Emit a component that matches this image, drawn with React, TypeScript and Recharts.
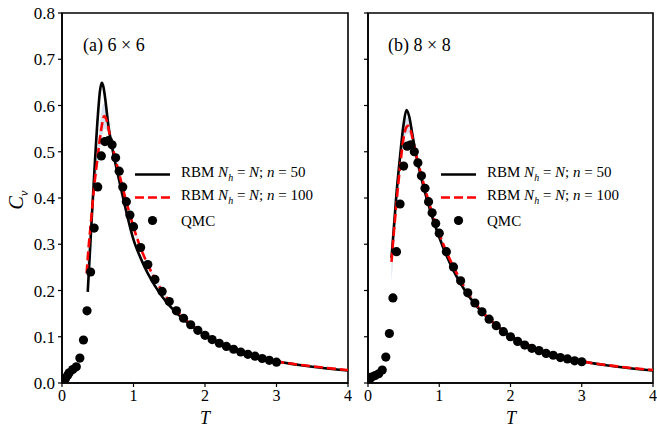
import React from "react";
import {
  ComposedChart,
  Line,
  Scatter,
  Area,
  XAxis,
  YAxis,
  ReferenceArea,
} from "recharts";

// ---- panel (a): 6 x 6 ----
const qmcT6 = [0.05, 0.08, 0.1, 0.15, 0.2, 0.25, 0.3, 0.35, 0.4, 0.45, 0.5, 0.55, 0.6, 0.65, 0.7, 0.75, 0.8, 0.85, 0.9, 0.95, 1.0, 1.1, 1.2, 1.3, 1.4, 1.5, 1.6, 1.7, 1.8, 1.9, 2.0, 2.1, 2.2, 2.3, 2.4, 2.5, 2.6, 2.7, 2.8, 2.9, 3.0];
const qmcCv6 = [0.01, 0.017, 0.022, 0.029, 0.035, 0.054, 0.093, 0.156, 0.24, 0.335, 0.424, 0.491, 0.522, 0.524, 0.515, 0.487, 0.458, 0.424, 0.392, 0.363, 0.338, 0.293, 0.256, 0.224, 0.198, 0.176, 0.156, 0.14, 0.126, 0.114, 0.103, 0.094, 0.086, 0.079, 0.073, 0.067, 0.062, 0.058, 0.053, 0.049, 0.045];

const rbm50T6 = [0.36, 0.4, 0.45, 0.5, 0.53, 0.555, 0.58, 0.6, 0.65, 0.7, 0.8, 0.9, 1.0, 1.1, 1.2, 1.3, 1.4, 1.5, 1.6, 1.8, 2.0, 2.25, 2.5, 2.75, 3.0, 3.5, 4.0];
const rbm50Cv6 = [0.197, 0.31, 0.45, 0.575, 0.63, 0.649, 0.64, 0.62, 0.555, 0.51, 0.438, 0.37, 0.31, 0.27, 0.237, 0.21, 0.187, 0.168, 0.152, 0.125, 0.103, 0.083, 0.068, 0.056, 0.047, 0.035, 0.027];

const rbm100T6 = [0.345, 0.37, 0.4, 0.45, 0.5, 0.55, 0.59, 0.63, 0.67, 0.7, 0.8, 0.9, 1.0, 1.1, 1.2, 1.3, 1.4, 1.5, 1.6, 1.8, 2.0, 2.25, 2.5, 2.75, 3.0, 3.5, 4.0];
const rbm100Cv6 = [0.237, 0.29, 0.34, 0.425, 0.49, 0.55, 0.577, 0.565, 0.535, 0.515, 0.452, 0.392, 0.337, 0.292, 0.256, 0.225, 0.199, 0.177, 0.158, 0.127, 0.104, 0.084, 0.068, 0.056, 0.047, 0.036, 0.028];

const bandT6 = [0.345, 0.37, 0.4, 0.45, 0.5, 0.55, 0.59, 0.63, 0.67, 0.7, 0.8, 0.9, 1.0, 1.2, 1.5];
const bandLo6 = [0.215, 0.27, 0.325, 0.41, 0.47, 0.525, 0.55, 0.545, 0.52, 0.503, 0.444, 0.385, 0.332, 0.252, 0.174];
const bandHi6 = [0.255, 0.305, 0.356, 0.445, 0.515, 0.585, 0.605, 0.59, 0.556, 0.53, 0.462, 0.4, 0.343, 0.26, 0.18];

// ---- panel (b): 8 x 8 ----
const qmcT8 = [0.03, 0.05, 0.1, 0.15, 0.2, 0.25, 0.3, 0.35, 0.4, 0.45, 0.5, 0.55, 0.6, 0.65, 0.7, 0.75, 0.8, 0.85, 0.9, 0.95, 1.0, 1.1, 1.2, 1.3, 1.4, 1.5, 1.6, 1.7, 1.8, 1.9, 2.0, 2.1, 2.2, 2.3, 2.4, 2.5, 2.6, 2.7, 2.8, 2.9, 3.0];
const qmcCv8 = [0.01, 0.013, 0.016, 0.02, 0.028, 0.056, 0.107, 0.184, 0.284, 0.387, 0.469, 0.512, 0.515, 0.5, 0.476, 0.448, 0.421, 0.392, 0.368, 0.345, 0.324, 0.284, 0.251, 0.221, 0.195, 0.173, 0.154, 0.138, 0.124, 0.111, 0.1, 0.09, 0.082, 0.075, 0.07, 0.064, 0.06, 0.055, 0.052, 0.048, 0.046];

const rbm50T8 = [0.33, 0.36, 0.4, 0.45, 0.5, 0.54, 0.58, 0.62, 0.66, 0.7, 0.8, 0.9, 1.0, 1.1, 1.2, 1.3, 1.4, 1.5, 1.6, 1.8, 2.0, 2.25, 2.5, 2.75, 3.0, 3.5, 4.0];
const rbm50Cv8 = [0.27, 0.33, 0.41, 0.49, 0.56, 0.59, 0.575, 0.54, 0.505, 0.475, 0.412, 0.36, 0.315, 0.276, 0.243, 0.215, 0.191, 0.171, 0.153, 0.125, 0.102, 0.082, 0.067, 0.056, 0.047, 0.035, 0.027];

const rbm100T8 = [0.33, 0.36, 0.4, 0.45, 0.5, 0.53, 0.56, 0.6, 0.65, 0.7, 0.8, 0.9, 1.0, 1.1, 1.2, 1.3, 1.4, 1.5, 1.6, 1.8, 2.0, 2.25, 2.5, 2.75, 3.0, 3.5, 4.0];
const rbm100Cv8 = [0.262, 0.32, 0.39, 0.468, 0.53, 0.55, 0.556, 0.545, 0.51, 0.478, 0.42, 0.368, 0.323, 0.284, 0.251, 0.222, 0.196, 0.174, 0.155, 0.125, 0.102, 0.082, 0.067, 0.056, 0.047, 0.036, 0.028];

const bandT8 = [0.33, 0.36, 0.4, 0.45, 0.5, 0.53, 0.56, 0.6, 0.65, 0.7, 0.8, 0.9, 1.0, 1.2, 1.5];
const bandLo8 = [0.215, 0.29, 0.37, 0.455, 0.515, 0.535, 0.54, 0.53, 0.5, 0.47, 0.414, 0.362, 0.318, 0.247, 0.171];
const bandHi8 = [0.275, 0.335, 0.405, 0.485, 0.548, 0.57, 0.575, 0.56, 0.522, 0.488, 0.428, 0.374, 0.328, 0.255, 0.177];

const xTicks = [0, 1, 2, 3, 4];
const yTicks = [0, 0.1, 0.2, 0.3, 0.4, 0.5, 0.6, 0.7, 0.8];

const FONT = "'Liberation Serif', 'DejaVu Serif', serif";

const toPoints = (ts: number[], vs: number[]) => ts.map((T, i) => ({ T, cv: vs[i] }));
const toBand = (ts: number[], lo: number[], hi: number[]) =>
  ts.map((T, i) => ({ T, band: [lo[i], hi[i]] }));

const Dot = (props: any) => <circle cx={props.cx} cy={props.cy} r={4.6} fill="#000" />;

interface PanelProps {
  width: number;
  yAxisWidth: number;
  showYLabels: boolean;
  qmc: { T: number; cv: number }[];
  rbm50: { T: number; cv: number }[];
  rbm100: { T: number; cv: number }[];
  band: { T: number; band: number[] }[];
}

function Panel({ width, yAxisWidth, showYLabels, qmc, rbm50, rbm100, band }: PanelProps) {
  const tickStyle = { fontSize: 17, fill: "#000", fontFamily: FONT };
  return (
    <ComposedChart width={width} height={432} margin={{ top: 13, right: 4, bottom: 0, left: 0 }}>
      <XAxis
        type="number"
        dataKey="T"
        domain={[0, 4]}
        ticks={xTicks}
        allowDataOverflow
        height={49}
        tickSize={4}
        tickMargin={3}
        tick={{ ...tickStyle, fontSize: 16 }}
        axisLine={{ stroke: "#000", strokeWidth: 1.6 }}
        tickLine={{ stroke: "#000", strokeWidth: 1.2 }}
      />
      <YAxis
        type="number"
        domain={[0, 0.8]}
        ticks={yTicks}
        allowDataOverflow
        width={yAxisWidth}
        tickSize={4}
        tickMargin={3}
        tick={tickStyle}
        tickFormatter={(v: number) => (showYLabels ? v.toFixed(1) : "")}
        axisLine={{ stroke: "#000", strokeWidth: 1.6 }}
        tickLine={{ stroke: "#000", strokeWidth: 1.2 }}
      />
      <Area
        data={band}
        dataKey="band"
        type="monotone"
        stroke="none"
        fill="#b9cce6"
        fillOpacity={0.6}
        isAnimationActive={false}
      />
      <Scatter data={qmc} dataKey="cv" shape={Dot} isAnimationActive={false} />
      <Line
        data={rbm50}
        dataKey="cv"
        type="monotone"
        stroke="#000"
        strokeWidth={2.6}
        dot={false}
        isAnimationActive={false}
      />
      <Line
        data={rbm100}
        dataKey="cv"
        type="monotone"
        stroke="#ff0000"
        strokeWidth={2.6}
        strokeDasharray="9 4"
        dot={false}
        isAnimationActive={false}
      />
      <ReferenceArea x1={0} x2={4} y1={0} y2={0.8} fill="none" stroke="#000" strokeWidth={1.6} ifOverflow="visible" />
    </ComposedChart>
  );
}

function LegendBox({ left, top }: { left: number; top: number }) {
  const text = { fontFamily: FONT, fontSize: 15, color: "#000", whiteSpace: "nowrap" as const, lineHeight: "22px" };
  const row = (icon: React.ReactNode, label: React.ReactNode) => (
    <div style={{ display: "flex", alignItems: "center", height: 23 }}>
      <svg width={46} height={23}>{icon}</svg>
      <span style={text}>{label}</span>
    </div>
  );
  return (
    <div style={{ position: "absolute", left, top }}>
      {row(<line x1={0} x2={35} y1={11.5} y2={11.5} stroke="#000" strokeWidth={2.6} />,
        <>RBM <i>N</i><sub style={{ fontSize: 10 }}><i>h</i></sub> = <i>N</i>; <i>n</i> = 50</>)}
      {row(<line x1={0} x2={35} y1={11.5} y2={11.5} stroke="#ff0000" strokeWidth={2.6} strokeDasharray="9 4" />,
        <>RBM <i>N</i><sub style={{ fontSize: 10 }}><i>h</i></sub> = <i>N</i>; <i>n</i> = 100</>)}
      {row(<circle cx={17.5} cy={11.5} r={4.6} fill="#000" />, <>QMC</>)}
    </div>
  );
}

export default function App() {
  const label = { position: "absolute" as const, fontFamily: FONT, color: "#000", whiteSpace: "nowrap" as const, lineHeight: 1 };
  return (
    <div style={{ position: "absolute", left: 0, top: 0, width: 657, height: 432, background: "#fff" }}>
      <div style={{ position: "absolute", left: 0, top: 0 }}>
        <Panel
          width={352}
          yAxisWidth={62}
          showYLabels
          qmc={toPoints(qmcT6, qmcCv6)}
          rbm50={toPoints(rbm50T6, rbm50Cv6)}
          rbm100={toPoints(rbm100T6, rbm100Cv6)}
          band={toBand(bandT6, bandLo6, bandHi6)}
        />
      </div>
      <div style={{ position: "absolute", left: 352, top: 0 }}>
        <Panel
          width={305}
          yAxisWidth={16}
          showYLabels={false}
          qmc={toPoints(qmcT8, qmcCv8)}
          rbm50={toPoints(rbm50T8, rbm50Cv8)}
          rbm100={toPoints(rbm100T8, rbm100Cv8)}
          band={toBand(bandT8, bandLo8, bandHi8)}
        />
      </div>
      <LegendBox left={135} top={163} />
      <LegendBox left={441} top={163} />
      <div style={{ ...label, left: 83, top: 36, fontSize: 18 }}>(a) 6 × 6</div>
      <div style={{ ...label, left: 388, top: 36, fontSize: 18 }}>(b) 8 × 8</div>
      <div style={{ ...label, left: 200, top: 409, fontSize: 18, fontStyle: "italic" }}>T</div>
      <div style={{ ...label, left: 506, top: 409, fontSize: 18, fontStyle: "italic" }}>T</div>
      <div
        style={{
          ...label,
          left: 8,
          top: 188,
          fontSize: 20,
          transform: "rotate(-90deg)",
          transformOrigin: "center",
        }}
      >
        <i>C</i>
        <sub style={{ fontSize: 13 }}><i>v</i></sub>
      </div>
    </div>
  );
}
